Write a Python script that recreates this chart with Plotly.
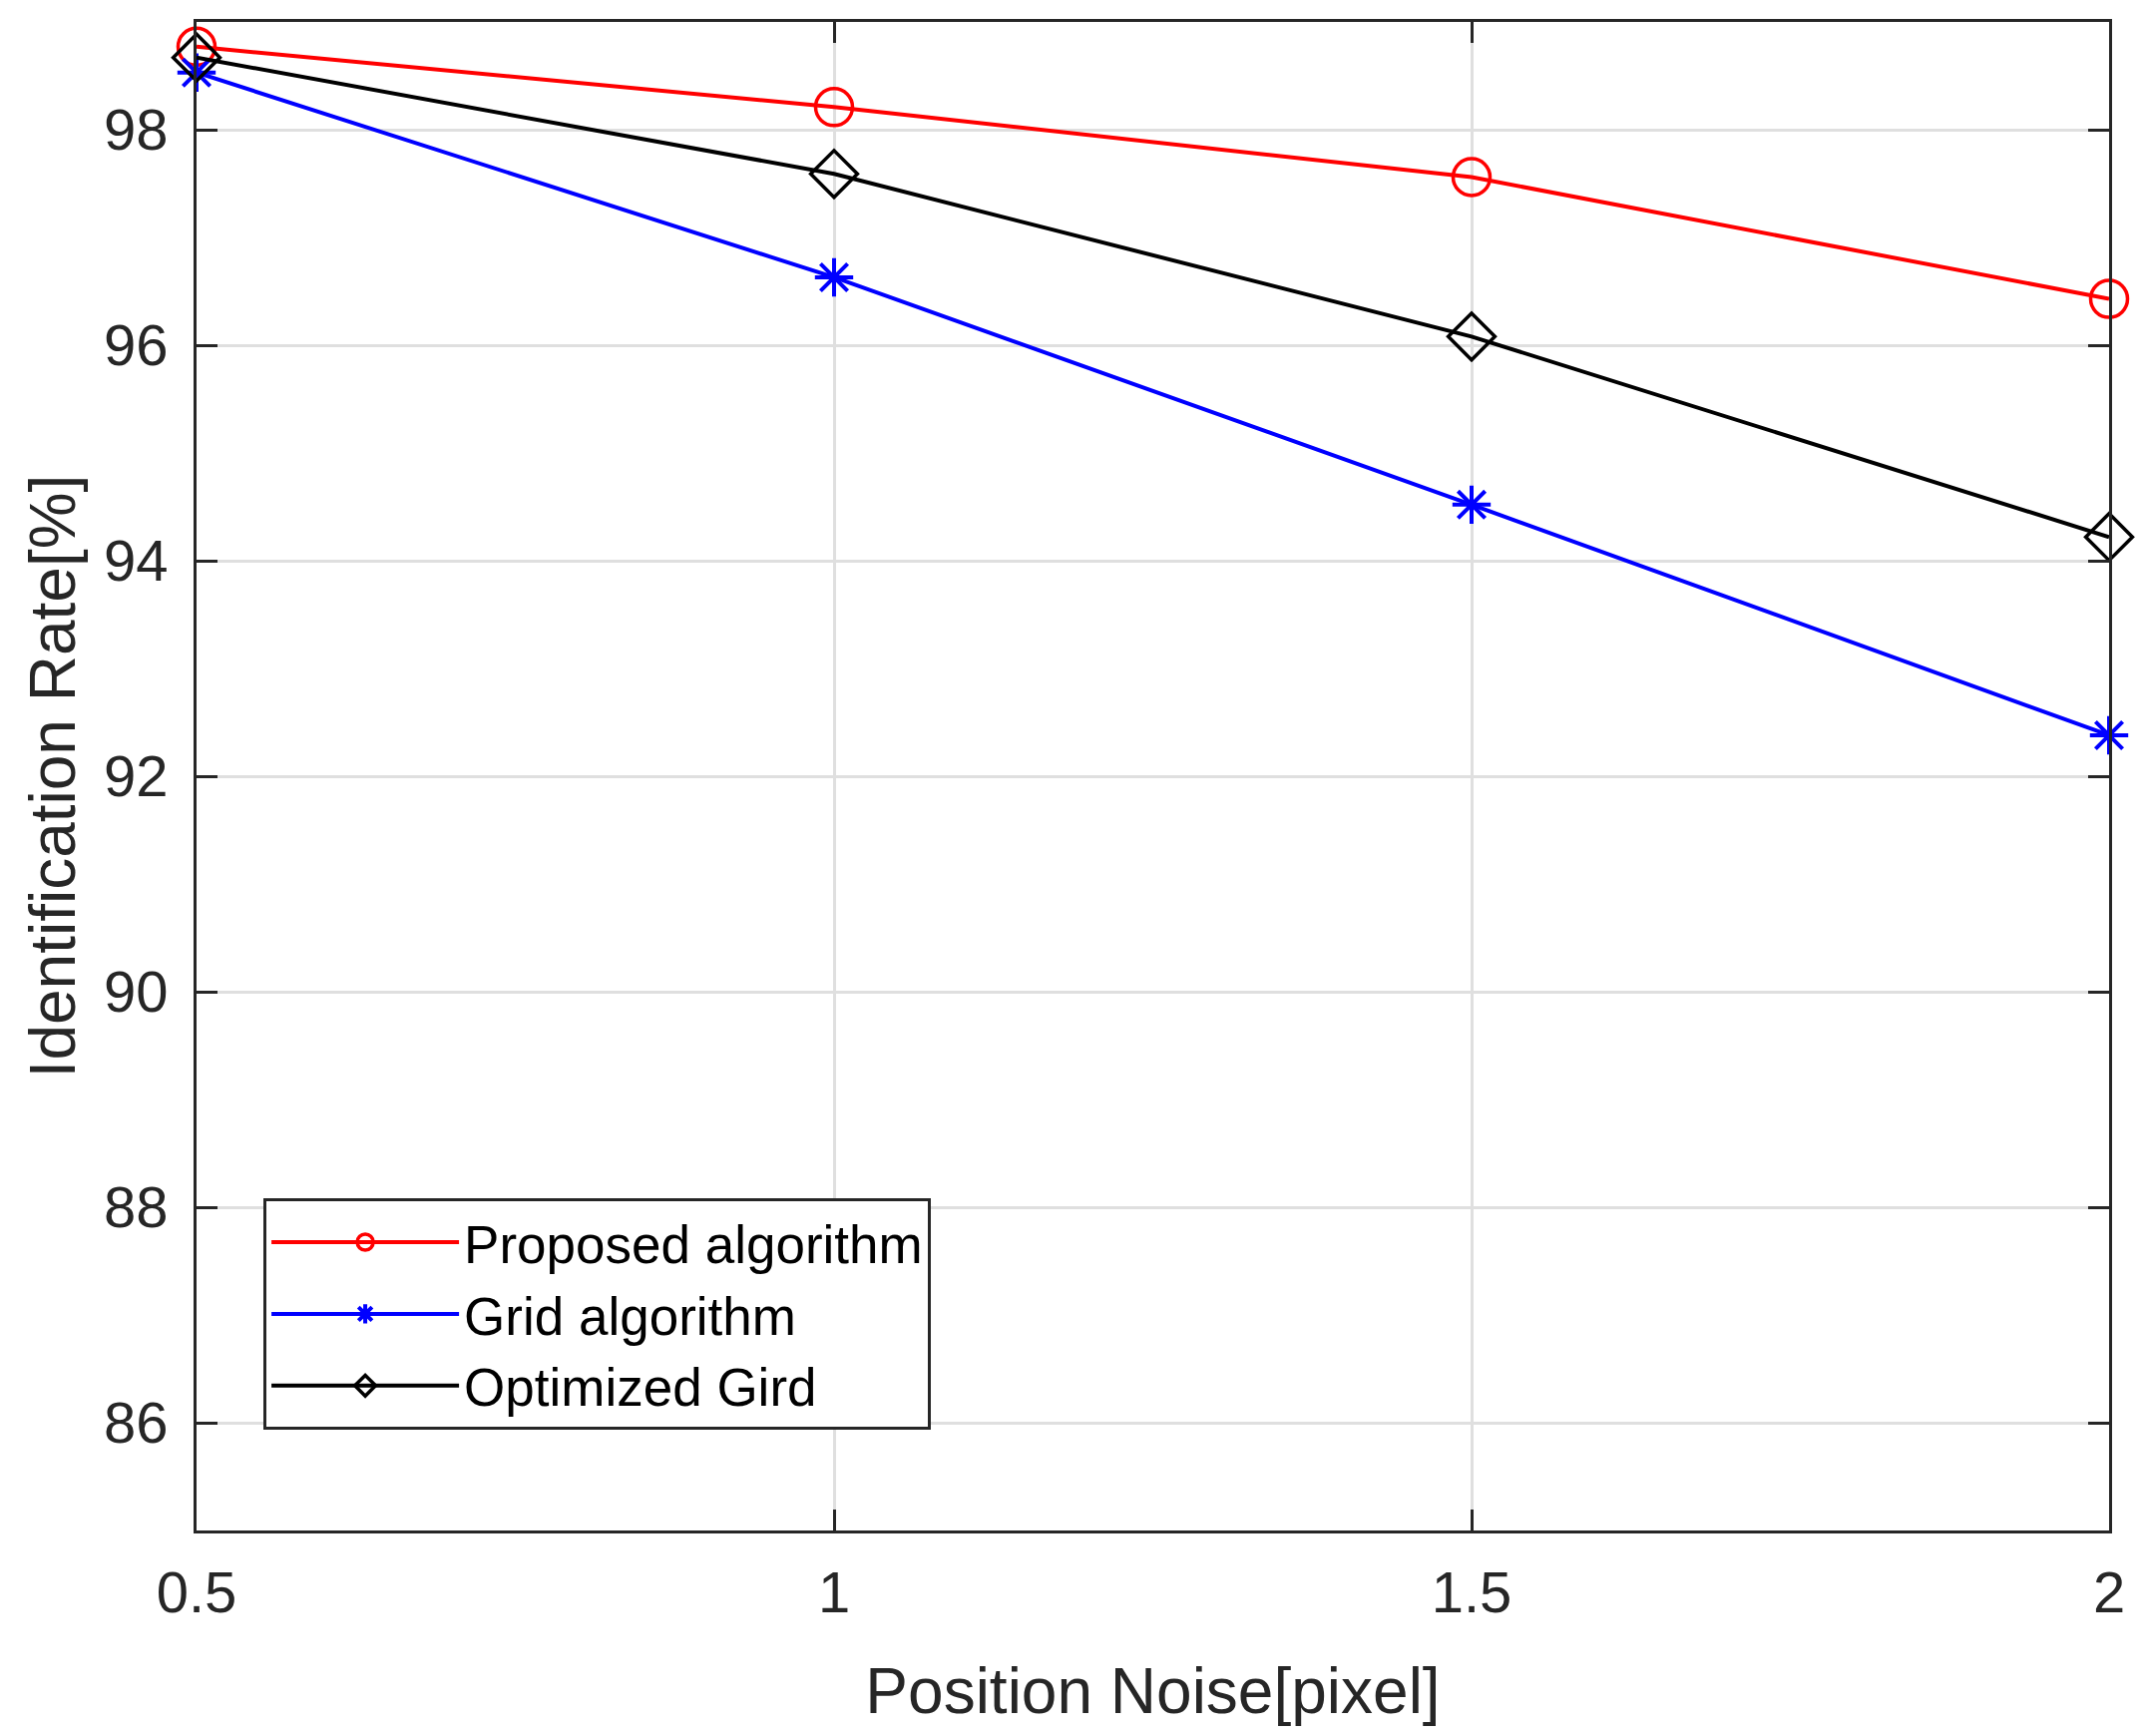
import plotly.graph_objects as go

# ---- data ----
noise = [0.5, 1.0, 1.5, 2.0]
proposed = [98.77, 98.21, 97.56, 96.43]
grid_alg = [98.53, 96.63, 94.52, 92.38]
optimized = [98.67, 97.59, 96.08, 94.22]

series_names = ["Proposed algorithm", "Grid algorithm", "Optimized Gird"]
x_tick_vals = [0.5, 1, 1.5, 2]
x_tick_text = ["0.5", "1", "1.5", "2"]
y_tick_vals = [86, 88, 90, 92, 94, 96, 98]
y_tick_text = ["86", "88", "90", "92", "94", "96", "98"]

FONT = "Arial, 'Liberation Sans', sans-serif"
AX = "#262626"

fig = go.Figure()
fig.add_trace(go.Scatter(
    x=noise, y=proposed, name=series_names[0], mode="lines+markers",
    line=dict(color="#ff0000", width=4),
    marker=dict(symbol="circle-open", size=37, color="#ff0000", line=dict(width=3.5, color="#ff0000")),
    cliponaxis=False))
fig.add_trace(go.Scatter(
    x=noise, y=grid_alg, name=series_names[1], mode="lines+markers",
    line=dict(color="#0000ff", width=4),
    marker=dict(symbol="asterisk-open", size=32, color="#0000ff", line=dict(width=4, color="#0000ff")),
    cliponaxis=False))
fig.add_trace(go.Scatter(
    x=noise, y=optimized, name=series_names[2], mode="lines+markers",
    line=dict(color="#000000", width=4),
    marker=dict(symbol="diamond-open", size=36, color="#000000", line=dict(width=3.5, color="#000000")),
    cliponaxis=False))

axis_common = dict(
    showline=True, linecolor=AX, linewidth=3, mirror="ticks",
    ticks="inside", ticklen=21, tickwidth=3, tickcolor=AX,
    showgrid=True, gridcolor="#dfdfdf", gridwidth=3,
    zeroline=False, tickfont=dict(family=FONT, size=58, color=AX),
)

fig.update_xaxes(
    range=[0.5, 2], tickvals=x_tick_vals, ticktext=x_tick_text,
    title=dict(text="Position Noise[pixel]", font=dict(family=FONT, size=64, color=AX), standoff=46),
    ticklabelstandoff=9, automargin=False, **axis_common)
fig.update_yaxes(
    range=[85, 99], tickvals=y_tick_vals, ticktext=y_tick_text,
    title=dict(text="Identification Rate[%]", font=dict(family=FONT, size=64, color=AX), standoff=8),
    ticklabelstandoff=14, automargin=False, **axis_common)

fig.update_layout(
    width=2150, height=1740,
    margin=dict(l=189, r=44, t=14, b=214),
    paper_bgcolor="white", plot_bgcolor="white",
    showlegend=True,
    legend=dict(
        x=0.035, y=0.2202, xanchor="left", yanchor="top",
        bgcolor="white", bordercolor=AX, borderwidth=3,
        font=dict(family=FONT, size=53, color="#000000"),
        itemwidth=188, tracegroupgap=0,
    ),
)

fig.write_html("out.html")
